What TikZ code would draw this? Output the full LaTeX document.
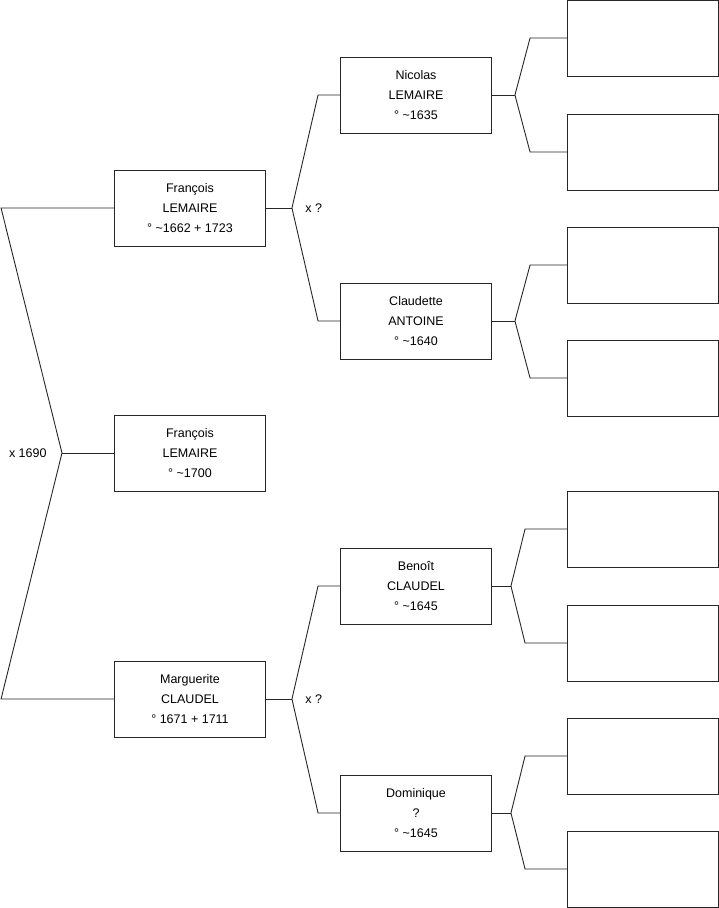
\documentclass[tikz,border=0pt]{standalone}
\usepackage{fontspec}
\setmainfont{Liberation Sans}
\usetikzlibrary{positioning,calc}

\tikzset{
  person/.style={draw, minimum width=151pt, minimum height=76pt, inner sep=0pt,
    align=center, font=\fontsize{12.5}{20}\selectfont},
  slot/.style={draw, minimum width=151pt, minimum height=76pt, inner sep=0pt},
  tag/.style={inner sep=0pt, font=\fontsize{12.5}{15}\selectfont}
}

\begin{document}
\begin{tikzpicture}[x=1pt, y=-1pt, line width=0.9pt, draw=black!85]
    \useasboundingbox (0,0) rectangle (719,908);
    % Generation 1
    \node[person] (fs) at (190,453) {François\\LEMAIRE\\° \textasciitilde1700};
    % Generation 2
    \node[person] (fl) at (190,208) {François\\LEMAIRE\\° \textasciitilde1662 + 1723};
    \node[person] (mc) at (190,699) {Marguerite\\CLAUDEL\\° 1671 + 1711};
    % Generation 3
    \node[person] (nl) at (416,95) {Nicolas\\LEMAIRE\\° \textasciitilde1635};
    \node[person] (ca) at (416,321) {Claudette\\ANTOINE\\° \textasciitilde1640};
    \node[person] (bc) at (416,586) {Benoît\\CLAUDEL\\° \textasciitilde1645};
    \node[person] (dq) at (416,813) {Dominique\\?\\° \textasciitilde1645};
    % Generation 4 (empty)
    \foreach \n/\y in {1/38, 2/152, 3/265, 4/378, 5/529, 6/643, 7/756, 8/869} {
        \node[slot] (s\n) at (643,\y) {};
    }
    % Couple of generation 2
    \coordinate (j0) at (62,453);
    \coordinate (t0) at ($(fl.west)+(-113,0)$);
    \coordinate (b0) at ($(mc.west)+(-113,0)$);
    \draw (fl.west) -- (t0) -- (j0) -- (b0) -- (mc.west);
    \draw (j0) -- (fs.west);
    \node[tag, left=15pt of j0] (m0) {x 1690};
    % Couples of generation 3
    \foreach \c/\u/\v/\m in {fl/nl/ca/1, mc/bc/dq/2} {
        \coordinate (jc\m) at ($(\c.east)+(26,0)$);
        \draw (\c.east) -- (jc\m);
        \draw (jc\m) -- ($(\u.west)+(-22,0)$) -- (\u.west);
        \draw (jc\m) -- ($(\v.west)+(-22,0)$) -- (\v.west);
        \node[tag, right=13pt of jc\m] (mm\m) {x ?};
    }
    % Parents of generation 3
    \foreach \p/\a/\b/\j/\k in {nl/1/2/23/37, ca/3/4/23/37, bc/5/6/19/42, dq/7/8/19/42} {
        \coordinate (j\p) at ($(\p.east)+(\j,0)$);
        \draw (\p.east) -- (j\p);
        \draw (j\p) -- ($(s\a.west)+(-\k,0)$) -- (s\a.west);
        \draw (j\p) -- ($(s\b.west)+(-\k,0)$) -- (s\b.west);
    }
\end{tikzpicture}
\end{document}
